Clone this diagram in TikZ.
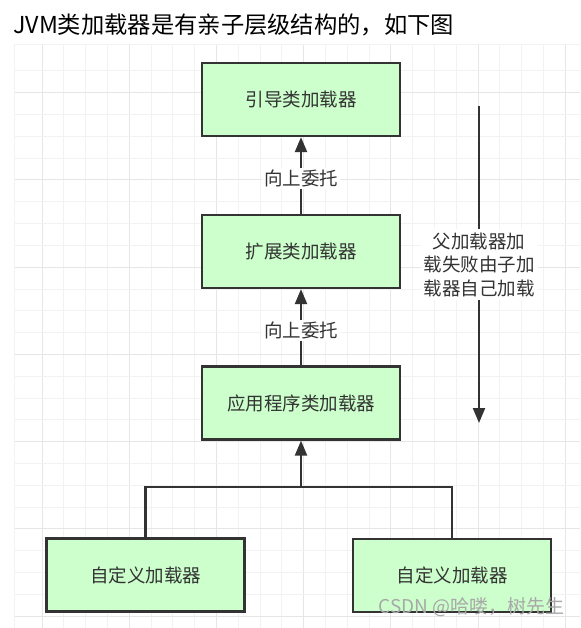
\documentclass[tikz,border=0pt]{standalone}
\usepackage{fontspec}
\setmainfont{Noto Sans CJK SC}
\usetikzlibrary{arrows.meta}
\definecolor{boxfill}{HTML}{CCFFCC}
\definecolor{ink}{HTML}{333333}
\definecolor{gridminor}{HTML}{F2F2F2}
\definecolor{gridmajor}{HTML}{E6E6E6}
\definecolor{wmark}{HTML}{A8A8A8}
\begin{document}
\begin{tikzpicture}[x=1pt,y=-1pt,
  loader/.style={draw=ink, line width=2.2pt, fill=boxfill, minimum width=198pt,
    minimum height=73pt, inner sep=0pt, font=\fontsize{18.5}{22}\selectfont, text=ink},
  lbl/.style={fill=white, inner sep=2pt, font=\fontsize{18.5}{22}\selectfont, text=ink},
  conn/.style={draw=ink, line width=2.2pt},
  tip/.style={-{Triangle[length=15pt,width=12pt]}}]
\fill[white] (0,0) rectangle (580,628);
\useasboundingbox (0,0) rectangle (580,628);
% grid
\begin{scope}
\clip (14,44) rectangle (580,628);
\foreach \i in {0,...,24} {
  \pgfmathtruncatemacro{\m}{mod(\i,4)}
  \ifnum\m=0 \def\gc{gridmajor}\else\def\gc{gridminor}\fi
  \draw[draw=\gc, line width=1pt] ({42+21.8*\i},44) -- ({42+21.8*\i},628);
}
\foreach \i in {0,...,25} {
  \pgfmathtruncatemacro{\m}{mod(\i,4)}
  \ifnum\m=1 \def\gc{gridmajor}\else\def\gc{gridminor}\fi
  \draw[draw=\gc, line width=1pt] (14,{71+21.8*\i}) -- (580,{71+21.8*\i});
}
\draw[gridminor, line width=1pt] (14,628) -- (14,45) -- (580,45);
\end{scope}
% title
\node[anchor=west, inner sep=0pt, font=\fontsize{23.3}{26}\selectfont, text=black] (title) at (13,25) {JVM类加载器是有亲子层级结构的，如下图};
% boxes
\node[loader] (boot) at (301,99.5) {引导类加载器};
\node[loader] (ext) at (301,251.5) {扩展类加载器};
\node[loader] (app) at (301,403) {应用程序类加载器};
\node[loader] (c1) at (145.5,575) {自定义加载器};
\node[loader] (c2) at (452,575.5) {自定义加载器};
% connectors
\draw[conn,tip] (ext.north) -- node[lbl, pos=0.46] (up1) {向上委托} (boot.south);
\draw[conn,tip] (app.north) -- node[lbl, pos=0.46] (up2) {向上委托} (ext.south);
\coordinate (join) at (301,487);
\draw[conn] (c1.north) |- (join) -| (c2.north);
\draw[conn,tip] (join) -- (app.south);
% right arrow
\coordinate (rtop) at (479,106);
\coordinate (rbot) at (479,423);
\draw[conn,tip] (rtop) -- node[lbl, align=center, font=\fontsize{18.5}{23.5}\selectfont, inner sep=3pt] (note) {父加载器加\\载失败由子加\\载器自己加载} (rbot);
% watermark
\node[anchor=east, inner sep=0pt, font=\fontsize{19}{22}\selectfont, text=wmark] (wm) at (565,607) {CSDN @哈喽，树先生};
\end{tikzpicture}
\end{document}
